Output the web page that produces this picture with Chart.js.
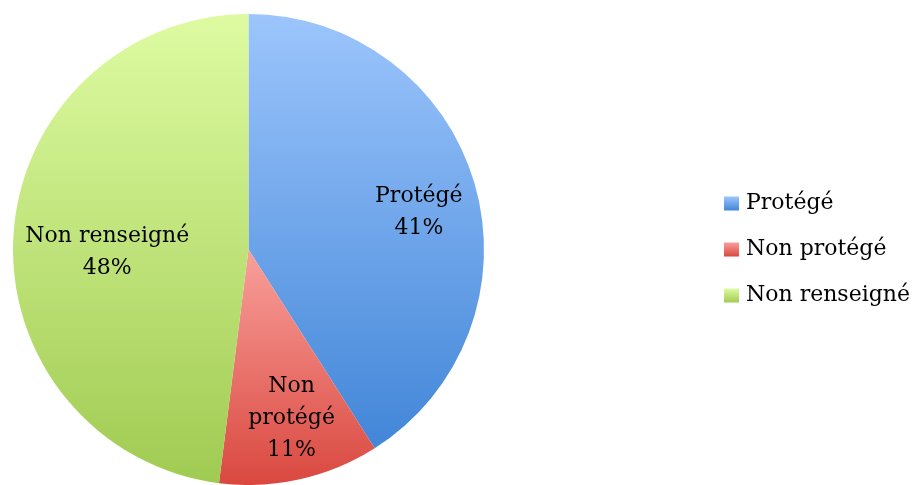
<!DOCTYPE html>
<html>
<head>
<meta charset="utf-8">
<script src="https://cdn.jsdelivr.net/npm/chart.js@4/dist/chart.umd.min.js"></script>
<style>
  html, body { margin: 0; padding: 0; background: #fff; }
  #wrap { width: 912px; height: 485px; }
</style>
</head>
<body>
<div id="wrap"><canvas id="graficaStatut"></canvas></div>
<script>
const categories = ['Protégé', 'Non protégé', 'Non renseigné'];
const valeurs = [41, 11, 48];
const etiquettes = [['Protégé', '41%'], ['Non', 'protégé', '11%'], ['Non renseigné', '48%']];

// couleurs haut / bas du dégradé de chaque part
const couleursHaut = ['#9CC5FC', '#F9A09B', '#DEFBA2'];
const couleursBas = ['#4286D8', '#D9483F', '#A0CB52'];
// placement des étiquettes : distance relative du centre, décalage d'angle (degrés)
const rayonEtiquette = [0.74, 0.74, 0.6];
const decalageAngle = [4, -1.7, -4.8];

const police = '"DejaVu Serif", serif';

function geometrie(chart, i){
  // centre, rayon et angles de la part i d'après la zone du graphique
  const a = chart.chartArea;
  const cx = (a.left + a.right) / 2;
  const cy = (a.top + a.bottom) / 2;
  const r = Math.min(a.width, a.height) / 2;
  const total = valeurs.reduce((s, v) => s + v, 0);
  let avant = 0;
  for(let k = 0; k < i; k++) avant += valeurs[k];
  const debut = -Math.PI / 2 + avant / total * 2 * Math.PI;
  const fin = debut + valeurs[i] / total * 2 * Math.PI;
  return { cx, cy, r, debut, fin };
}

function fondPart(ctx){
  const chart = ctx.chart;
  const i = ctx.dataIndex;
  if(!chart.chartArea) return couleursHaut[i];
  const g = geometrie(chart, i);
  let haut = g.cy, bas = g.cy;
  for(let k = 0; k <= 60; k++){
    const t = g.debut + (g.fin - g.debut) * k / 60;
    const y = g.cy + Math.sin(t) * g.r;
    if(y < haut) haut = y;
    if(y > bas) bas = y;
  }
  const grad = chart.ctx.createLinearGradient(0, haut, 0, bas);
  grad.addColorStop(0, couleursHaut[i]);
  grad.addColorStop(1, couleursBas[i]);
  return grad;
}

const carreZone = {
  id: 'carreZone',
  afterLayout(chart){
    const a = chart.chartArea;
    a.right = a.left + a.height;
    a.width = a.height;
  }
};

// petits carrés en dégradé par-dessus la légende
const carresLegende = {
  id: 'carresLegende',
  afterDraw(chart){
    const leg = chart.legend;
    if(!leg || !leg.legendHitBoxes) return;
    const ctx = chart.ctx;
    leg.legendHitBoxes.forEach((b, i) => {
      const y = b.top + (b.height - 14) / 2;
      const grad = ctx.createLinearGradient(0, y, 0, y + 14);
      grad.addColorStop(0, couleursHaut[i]);
      grad.addColorStop(1, couleursBas[i]);
      ctx.fillStyle = grad;
      ctx.fillRect(b.left, y, 15, 14);
    });
  }
};

const etiquettesParts = {
  id: 'etiquettesParts',
  afterDatasetsDraw(chart){
    const ctx = chart.ctx;
    ctx.save();
    ctx.font = '22px ' + police;
    ctx.fillStyle = '#000';
    ctx.textAlign = 'center';
    ctx.textBaseline = 'middle';
    etiquettes.forEach((lignes, i) => {
      const g = geometrie(chart, i);
      const mid = (g.debut + g.fin) / 2 + decalageAngle[i] * Math.PI / 180;
      const r = g.r * rayonEtiquette[i];
      const x = g.cx + Math.cos(mid) * r;
      const y = g.cy + Math.sin(mid) * r;
      const h = 32;
      lignes.forEach((l, k) => {
        ctx.fillText(l, x, y + (k - (lignes.length - 1) / 2) * h);
      });
    });
    ctx.restore();
  }
};

new Chart(document.getElementById('graficaStatut'), {
  type: 'pie',
  data: {
    labels: categories,
    datasets: [{
      data: valeurs,
      backgroundColor: fondPart,
      borderWidth: 0
    }]
  },
  options: {
    responsive: true,
    maintainAspectRatio: false,
    animation: false,
    layout: { padding: { top: 14, left: 13, bottom: 0, right: 0 } },
    plugins: {
      tooltip: { enabled: false },
      legend: {
        position: 'right',
        maxWidth: 212,
        labels: {
          font: { family: police, size: 22 },
          color: '#000',
          boxWidth: 11,
          boxHeight: 14,
          padding: 24,
          generateLabels(chart){
            return categories.map((c, i) => ({
              text: c,
              fillStyle: 'rgba(0,0,0,0)',
              strokeStyle: 'rgba(0,0,0,0)',
              lineWidth: 0,
              hidden: false,
              index: i
            }));
          }
        }
      }
    }
  },
  plugins: [carreZone, etiquettesParts, carresLegende]
});
</script>
</body>
</html>
